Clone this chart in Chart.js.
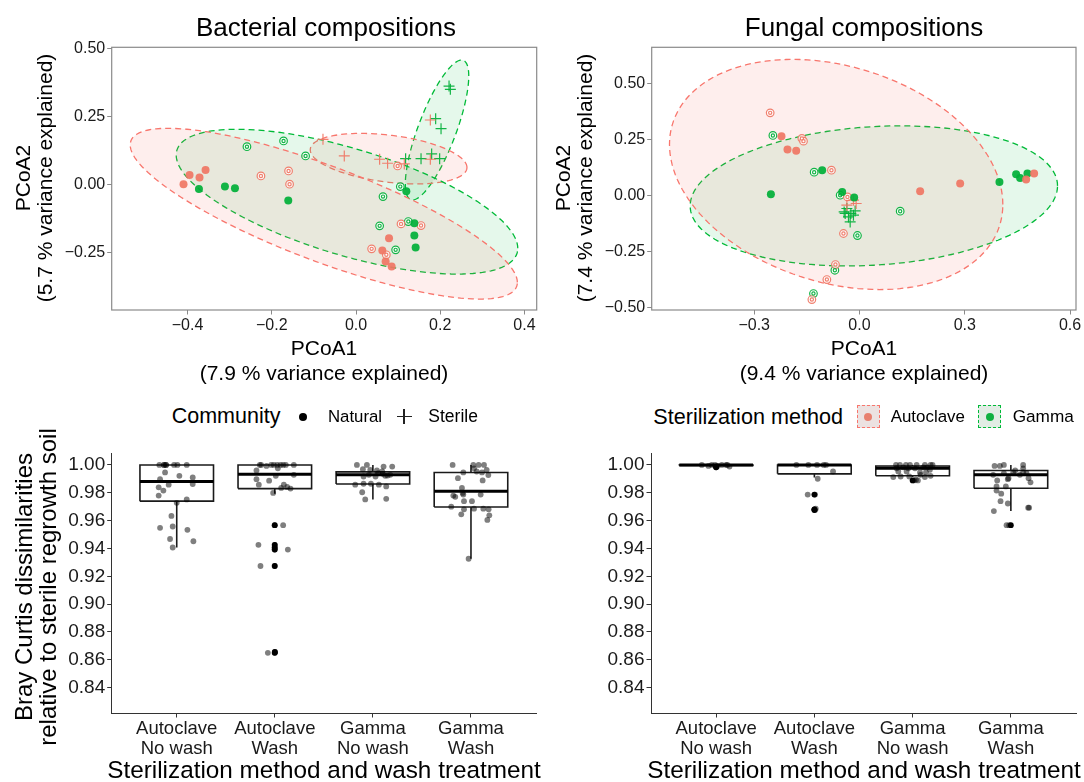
<!DOCTYPE html>
<html><head><meta charset="utf-8">
<script src="https://cdn.jsdelivr.net/npm/chart.js@4.4.1/dist/chart.umd.min.js"></script>
<style>
html,body{margin:0;padding:0;background:#fff;}
#wrap{position:relative;width:1084px;height:782px;overflow:hidden;font-family:"Liberation Sans",Arial,Helvetica,sans-serif;color:#000;background:#fff;}
canvas{position:absolute;}
.t{position:absolute;white-space:nowrap;transform:translate(-50%,-50%);line-height:1;}
.l{position:absolute;white-space:nowrap;transform:translate(0,-50%);line-height:1;}
.r{transform:translate(-50%,-50%) rotate(-90deg);}
.box{position:absolute;box-sizing:border-box;}
</style></head><body>
<div id="wrap">
<canvas id="c1" width="545" height="345" style="left:0;top:0"></canvas>
<canvas id="c2" width="544" height="345" style="left:540px;top:0"></canvas>
<canvas id="c3" width="545" height="322" style="left:0;top:440px"></canvas>
<canvas id="c4" width="544" height="322" style="left:540px;top:440px"></canvas>

<div class="t" style="left:326px;top:27px;font-size:26px">Bacterial compositions</div>
<div class="t" style="left:864px;top:27px;font-size:26px">Fungal compositions</div>

<div class="t r" style="left:22px;top:178px;font-size:21px">PCoA2</div>
<div class="t r" style="left:44px;top:178px;font-size:21px">(5.7 % variance explained)</div>
<div class="t" style="left:324px;top:347px;font-size:21px">PCoA1</div>
<div class="t" style="left:324px;top:372px;font-size:21px">(7.9 % variance explained)</div>

<div class="t r" style="left:562px;top:178px;font-size:21px">PCoA2</div>
<div class="t r" style="left:584px;top:178px;font-size:21px">(7.4 % variance explained)</div>
<div class="t" style="left:864px;top:347px;font-size:21px">PCoA1</div>
<div class="t" style="left:864px;top:372px;font-size:21px">(9.4 % variance explained)</div>

<!-- legends -->
<div class="l" style="left:171.7px;top:416.5px;font-size:21.5px">Community</div>
<div class="box" style="left:299.3px;top:412.5px;width:8px;height:8px;border-radius:50%;background:#000"></div>
<div class="l" style="left:328px;top:416.5px;font-size:16.8px">Natural</div>
<div class="box" style="left:396.5px;top:416px;width:15px;height:1.2px;background:#222"></div>
<div class="box" style="left:403.4px;top:409px;width:1.2px;height:15px;background:#222"></div>
<div class="l" style="left:428.3px;top:416.5px;font-size:17.5px">Sterile</div>

<div class="l" style="left:653.3px;top:416.5px;font-size:21.6px">Sterilization method</div>
<div class="box" style="left:856.7px;top:405px;width:23px;height:23px;background:#ECE2E1;border:1.2px dashed #F8766D"></div>
<div class="box" style="left:864.2px;top:412.5px;width:8px;height:8px;border-radius:50%;background:#E8806F"></div>
<div class="l" style="left:890.7px;top:416.5px;font-size:16.9px">Autoclave</div>
<div class="box" style="left:978.3px;top:405px;width:23px;height:23px;background:#E2ECE4;border:1.2px dashed #00BA38"></div>
<div class="box" style="left:985.8px;top:412.5px;width:8px;height:8px;border-radius:50%;background:#10B040"></div>
<div class="l" style="left:1012.7px;top:416.5px;font-size:17.2px">Gamma</div>

<div class="t r" style="left:24px;top:587px;font-size:24px">Bray Curtis dissimilarities</div>
<div class="t r" style="left:48px;top:587px;font-size:24px">relative to sterile regrowth soil</div>
<div class="t" style="left:324px;top:770px;font-size:24.3px">Sterilization method and wash treatment</div>
<div class="t" style="left:864px;top:770px;font-size:24.3px">Sterilization method and wash treatment</div>
</div>

<script>
// ---------------- DATA ----------------
// Bacterial PCoA (PCoA1, PCoA2)
const bacAutoNaturalNoWash = [[-0.4095,0.0],[-0.3952,0.0342],[-0.3715,0.0243],[-0.3572,0.0526],[0.0784,-0.1985],[0.0625,-0.2441],[0.0703,-0.2846],[0.0846,-0.3029]];
const bacAutoNaturalWash   = [[-0.2257,0.0305],[-0.1601,0.0489],[-0.1577,0.0],[0.0988,0.0673],[0.1069,-0.146],[0.1544,-0.1522],[0.0371,-0.2379],[0.072,-0.2599]];
const bacGammaNaturalNoWash= [[-0.3729,-0.0173],[-0.3112,-0.0088],[-0.2874,-0.0147],[-0.1608,-0.0603],[0.1195,-0.0257],[0.1385,-0.1434],[0.1385,-0.189],[0.1416,-0.2331]];
const bacGammaNaturalWash  = [[-0.2589,0.1382],[-0.172,0.1592],[-0.1197,0.104],[0.1052,-0.0088],[0.0641,-0.0456],[0.0561,-0.1533],[0.1242,-0.1375],[0.0941,-0.2415]];
const bacAutoSterile       = [[-0.0784,0.1654],[-0.0278,0.104],[0.0561,0.0919],[0.075,0.0772],[0.1147,0.0746],[0.1765,0.2364],[0.1765,0.0919]];
const bacGammaSterile      = [[0.2209,0.3614],[0.224,0.3493],[0.1891,0.2412],[0.2019,0.2044],[0.1178,0.0941],[0.1544,0.0941],[0.1796,0.1114],[0.1986,0.0941]];
// confidence ellipses: [centerX, centerY, halfRangeX, halfRangeY, yOffsetAtMaxX]
const bacEllipseAutoNatural   = [-0.0765,-0.1085,0.4596,0.3143,-0.253];
const bacEllipseGammaNatural  = [-0.0214,-0.0643,0.4055,0.2665,-0.1717];
const bacEllipseAutoSterile   = [0.0774,0.0941,0.186,0.093,-0.0325];
const bacEllipseGammaSterile  = [0.1924,0.1996,0.0753,0.2574,0.1985];
const bacTicksX = [-0.4,-0.2,0.0,0.2,0.4];
const bacTickLabelsX = ['\u22120.4','\u22120.2','0.0','0.2','0.4'];
const bacTicksY = [-0.25,0,0.25,0.5];
const bacTickLabelsY = ['\u22120.25','0.00','0.25','0.50'];

// Fungal PCoA
const funAutoNaturalNoWash = [[-0.2222,0.2643],[-0.2051,0.205],[-0.1803,0.1988],[0.1729,0.0192],[0.2869,0.0535],[0.4749,0.0713],[0.4977,0.098]];
const funAutoNaturalWash   = [[-0.2544,0.3681],[-0.1641,0.254],[-0.1595,0.242],[-0.0798,0.1127],[-0.0456,-0.1693],[-0.0684,-0.3075],[-0.0929,-0.3743],[-0.1356,-0.4635],[-0.0342,-0.0062]];
const funGammaNaturalNoWash= [[-0.2524,0.0058],[-0.1063,0.1127],[-0.0493,0.016],[-0.0151,-0.0089],[0.3989,0.0606],[0.4464,0.0949],[0.4578,0.0784],[0.4786,0.098]];
const funGammaNaturalWash  = [[-0.2467,0.2674],[-0.1291,0.1038],[-0.055,0.0013],[0.116,-0.07],[-0.0057,-0.1783],[-0.0701,-0.3329],[-0.1311,-0.4367]];
const funAutoSterile       = [[-0.0171,-0.021],[-0.0094,-0.0357],[-0.0359,-0.043]];
const funGammaSterile      = [[-0.0436,-0.073],[-0.0359,-0.058],[-0.0245,-0.080],[-0.0123,-0.0686],[-0.0313,-0.0954],[-0.0265,-0.1176],[-0.0407,-0.080],[-0.0171,-0.0878]];
const funEllipseAuto  = [-0.0664,0.0936,0.4749,0.5125,-0.1337];
const funEllipseGamma = [0.041,-0.0018,0.5234,0.312,0.0446];
const funTicksX = [-0.3,0,0.3,0.6];
const funTickLabelsX = ['\u22120.3','0.0','0.3','0.6'];
const funTicksY = [-0.5,-0.25,0,0.25,0.5];
const funTickLabelsY = ['\u22120.50','\u22120.25','0.00','0.25','0.50'];

// Bray Curtis boxplots
const boxCategories = [['Autoclave','No wash'],['Autoclave','Wash'],['Gamma','No wash'],['Gamma','Wash']];
const boxTicksY = [0.84,0.86,0.88,0.90,0.92,0.94,0.96,0.98,1.00];
const boxTickLabelsY = ['0.84','0.86','0.88','0.90','0.92','0.94','0.96','0.98','1.00'];

const bacQ1  = [0.974, 0.983, 0.9863, 0.9698];
const bacMed = [0.9882, 0.9934, 0.9929, 0.9811];
const bacQ3  = [1.0, 1.0, 0.995, 0.9946];
const bacWhiskLo = [0.9407, 0.9794, 0.9752, 0.9326];
const bacWhiskHi = [1.0, 1.0, 1.0, 1.0];
const bacOutliers = [[2,0.9567],[2,0.9426],[2,0.9407],[2,0.9392],[2,0.9274],[2,0.8650],[2,0.8657]];
const bacJitter = [
 [0.823,1.0],[0.871,1.0],[0.871,1.0],[0.891,1.0],[0.891,1.0],[0.973,1.0],[1.007,1.0],[1.102,1.0],[0.881,0.9946],[1.027,0.9922],[0.830,0.9898],[1.163,0.9910],
 [0.918,0.9858],[1.163,0.9863],[0.816,0.9839],[0.864,0.9816],[0.816,0.9780],[1.000,0.9728],[1.102,0.9752],[0.946,0.9634],[0.830,0.9548],[0.959,0.9558],
 [1.109,0.9534],[0.932,0.9468],[1.170,0.9452],[0.959,0.9407],
 [1.847,1.0],[1.861,1.0],[1.915,0.9993],[1.963,1.0],[1.990,1.0],[2.024,1.0],[2.058,1.0],[2.085,1.0],[2.112,1.0],[2.194,1.0],[2.031,0.9976],[1.813,0.9960],
 [2.010,0.9922],[2.194,0.9929],[1.813,0.9898],[1.942,0.9887],[1.837,0.9858],[2.092,0.9858],[2.126,0.9842],[2.065,0.9835],[2.160,0.9830],[1.983,0.9799],
 [1.997,0.9567],[2.085,0.9567],[1.833,0.9426],[1.997,0.9426],[1.997,0.9407],[1.997,0.9392],[2.133,0.9392],[1.854,0.9274],[1.997,0.9274],[1.929,0.8650],[1.997,0.8650],[2.003,0.8657],
 [2.837,1.0],[2.939,1.0],[3.109,0.9988],[3.197,0.9988],[2.898,0.9969],[2.973,0.9965],[3.041,0.9960],[3.095,0.9953],[2.905,0.9917],[2.959,0.9929],[3.027,0.9917],
 [3.150,0.9924],[3.177,0.9929],[3.054,0.9941],[3.102,0.9936],[3.126,0.9922],[2.820,0.9858],[2.905,0.9865],[2.980,0.9865],[3.061,0.9858],[3.136,0.9846],
 [2.891,0.9804],[2.922,0.9752],[3.136,0.9757],
 [3.813,1.0],[4.024,1.0],[4.078,1.0],[4.133,1.0],[4.031,0.9976],[4.160,0.9965],[3.922,0.9946],[4.058,0.9953],[4.112,0.9946],[4.177,0.9927],[3.867,0.9905],
 [4.119,0.9889],[3.908,0.9835],[3.915,0.9799],[3.820,0.9780],[3.922,0.9787],[4.099,0.9787],[3.840,0.9771],[3.929,0.9740],[4.010,0.9740],[3.799,0.9700],
 [3.929,0.9681],[4.031,0.9686],[4.126,0.9686],[4.180,0.9681],[3.901,0.9645],[4.187,0.9638],[4.167,0.9605],[3.976,0.9326]
];

const funQ1  = [0.9996, 0.9936, 0.9922, 0.9833];
const funMed = [1.0, 1.0, 0.9977, 0.9929];
const funQ3  = [1.0, 1.0, 0.9993, 0.996];
const funWhiskLo = [0.9996, 0.991, 0.9913, 0.9669];
const funWhiskHi = [1.0, 1.0, 1.0, 1.0];
const funOutliers = [[1,0.9983],[1,0.9988],[2,0.9787],[2,0.9681],[2,0.9676],[3,0.9889],[4,0.9567]];
const funJitter = [
 [0.854,1.0],[0.922,0.9993],[0.956,1.0],[0.990,1.0],[1.014,0.9993],[1.058,1.0],[1.102,1.0],[1.115,1.0],[1.136,0.9988],[1.000,0.9983],
 [1.817,1.0],[1.939,1.0],[2.027,1.0],[2.095,1.0],[2.119,1.0],[2.190,0.9953],[2.034,0.9901],[1.932,0.9787],[2.007,0.9787],[2.000,0.9681],[2.007,0.9676],[2.014,0.9686],
 [2.831,1.0],[2.871,1.0],[2.932,1.0],[2.973,1.0],[3.041,1.0],[3.125,1.0],[3.183,1.0],[3.203,1.0],[2.837,0.9976],[2.905,0.9983],[2.956,0.9976],[3.024,0.9976],
 [3.108,0.9983],[3.149,0.9983],[2.854,0.9953],[2.939,0.9953],[3.075,0.9946],[3.136,0.9946],[3.176,0.9965],[2.803,0.9913],[2.878,0.9917],[2.966,0.9917],
 [3.034,0.9894],[3.014,0.9889],[3.054,0.9889],[3.125,0.9913],[3.183,0.9922],[3.081,0.9929],
 [3.834,0.9993],[3.888,0.9993],[3.929,1.0],[4.125,1.0],[4.125,0.9976],[3.820,0.9929],[3.929,0.9941],[3.969,0.9898],[3.861,0.9889],[3.949,0.9846],[3.854,0.9846],
 [3.854,0.9816],[3.902,0.9794],[3.895,0.9740],[3.969,0.9723],[3.827,0.9669],[3.956,0.9567],[3.983,0.9567],[4.186,0.9693],[4.176,0.9693],[4.200,0.9875],[4.180,0.9905],
 [4.092,0.9929],[4.044,0.9960],[4.159,0.9941],[3.976,0.9905],[4.024,0.9946],[4.125,0.9946]
];

// ---------------- STYLE / BUILD ----------------
const F = '"Liberation Sans", Arial, Helvetica, sans-serif';
Chart.defaults.font.family = F;
const RED = '#F8766D', GRN = '#00BA38';
const REDPT = 'rgba(240,118,100,0.92)', GRNPT = 'rgba(0,176,56,0.92)';

const xy = a => a.map(p => ({x:p[0], y:p[1]}));
function ellipsePts(e){
  const [cx,cy,hx,hy,r] = e; const m = Math.sqrt(hy*hy - r*r); const pts = [];
  for(let i=0;i<=144;i++){ const t=i/144*2*Math.PI; pts.push({x:cx+hx*Math.cos(t), y:cy+r*Math.cos(t)+m*Math.sin(t)}); }
  return pts;
}
function ellipseDS(e, col, fillCol){
  return {type:'line', data:ellipsePts(e), showLine:true, pointRadius:0, borderColor:col, borderWidth:1.3,
    borderDash:[6,4], backgroundColor:fillCol, fill:'shape', tension:0, order:10};
}
function dotDS(a, col){ return {data:xy(a), pointStyle:'circle', pointRadius:4, backgroundColor:col, borderWidth:0, order:1}; }
function ringDS(a, col){
  return [
    {data:xy(a), pointStyle:'circle', pointRadius:3.8, backgroundColor:'rgba(255,255,255,0.75)', borderColor:col, borderWidth:1.2, order:2},
    {data:xy(a), pointStyle:'circle', pointRadius:1.6, backgroundColor:'#fff', borderColor:col, borderWidth:1.2, order:1}
  ];
}
function crossDS(a, col){ return {data:xy(a), pointStyle:'cross', pointRadius:5.5, borderColor:col, borderWidth:1.2, order:1}; }

const frame = {id:'frame', afterDatasetsDraw(c){ const a=c.chartArea, g=c.ctx; g.save(); g.strokeStyle='#8a8a8a'; g.lineWidth=1.2; g.strokeRect(a.left,a.top,a.right-a.left,a.bottom-a.top); g.restore(); }};

function pcoaScales(xmin,xmax,ymin,ymax,xt,xl,yt,yl){
  const tk = {font:{family:F,size:16}, color:'#1a1a1a', maxRotation:0, autoSkip:false};
  const gr = {drawOnChartArea:false, drawTicks:true, tickLength:4.5, color:'#8a8a8a', lineWidth:1};
  return {
    x:{type:'linear', min:xmin, max:xmax, afterBuildTicks:s=>{s.ticks=xt.map(v=>({value:v}));},
       ticks:Object.assign({callback:(v,i)=>xl[i], padding:1}, tk), grid:gr, border:{display:false}, afterFit:s=>{s.height=35;}},
    y:{type:'linear', min:ymin, max:ymax, afterBuildTicks:s=>{s.ticks=yt.map(v=>({value:v}));},
       ticks:Object.assign({callback:(v,i)=>yl[i], padding:2}, tk), grid:gr, border:{display:false}, afterFit:s=>{s.width=111.7;}}
  };
}
const common = {responsive:false, animation:false, events:[], plugins:{legend:{display:false}, tooltip:{enabled:false}}};

new Chart(document.getElementById('c1'), {
  type:'scatter',
  data:{datasets:[
    ellipseDS(bacEllipseAutoNatural, RED, 'rgba(248,118,109,0.12)'),
    ellipseDS(bacEllipseGammaNatural, GRN, 'rgba(0,186,56,0.10)'),
    ellipseDS(bacEllipseAutoSterile, RED, 'rgba(248,118,109,0.12)'),
    ellipseDS(bacEllipseGammaSterile, GRN, 'rgba(0,186,56,0.10)'),
    dotDS(bacAutoNaturalNoWash, REDPT), ...ringDS(bacAutoNaturalWash, REDPT),
    dotDS(bacGammaNaturalNoWash, GRNPT), ...ringDS(bacGammaNaturalWash, GRNPT),
    crossDS(bacAutoSterile, REDPT), crossDS(bacGammaSterile, GRNPT)
  ]},
  options:Object.assign({}, common, {layout:{padding:{left:0,right:8.3,top:47.3,bottom:0}},
    scales:pcoaScales(-0.58,0.429,-0.463,0.504,bacTicksX,bacTickLabelsX,bacTicksY,bacTickLabelsY)}),
  plugins:[frame]
});

new Chart(document.getElementById('c2'), {
  type:'scatter',
  data:{datasets:[
    ellipseDS(funEllipseAuto, RED, 'rgba(248,118,109,0.12)'),
    ellipseDS(funEllipseGamma, GRN, 'rgba(0,186,56,0.10)'),
    dotDS(funAutoNaturalNoWash, REDPT), ...ringDS(funAutoNaturalWash, REDPT),
    dotDS(funGammaNaturalNoWash, GRNPT), ...ringDS(funGammaNaturalWash, GRNPT),
    crossDS(funAutoSterile, REDPT), crossDS(funGammaSterile, GRNPT)
  ]},
  options:Object.assign({}, common, {layout:{padding:{left:0,right:8,top:47.3,bottom:0}},
    scales:pcoaScales(-0.592,0.617,-0.51,0.66,funTicksX,funTickLabelsX,funTicksY,funTickLabelsY)}),
  plugins:[frame]
});

function boxDatasets(q1,med,q3,wlo,whi){
  const w = 0.375, out = [], meds = [], wh = [];
  q1.forEach((_,i)=>{
    const p = i+1;
    out.push({type:'line', showLine:true, data:[{x:p-w,y:q1[i]},{x:p+w,y:q1[i]},{x:p+w,y:q3[i]},{x:p-w,y:q3[i]},{x:p-w,y:q1[i]}],
      borderColor:'#1a1a1a', borderWidth:1.6, backgroundColor:'#fff', fill:'shape', pointRadius:0, tension:0, order:6});
    meds.push({x:p-w,y:med[i]},{x:p+w,y:med[i]},{x:p,y:null});
    wh.push({x:p,y:q3[i]},{x:p,y:whi[i]},{x:p,y:null},{x:p,y:q1[i]},{x:p,y:wlo[i]},{x:p,y:null});
  });
  out.push({type:'line', showLine:true, spanGaps:false, data:meds, borderColor:'#000', borderWidth:3, pointRadius:0, order:5});
  out.push({type:'line', showLine:true, spanGaps:false, data:wh, borderColor:'#1a1a1a', borderWidth:1.6, pointRadius:0, order:7});
  return out;
}
function boxScales(yw){
  const tk = {color:'#1a1a1a', maxRotation:0, autoSkip:false};
  const gr = {drawOnChartArea:false, drawTicks:true, tickLength:4.5, color:'#333', lineWidth:1};
  return {
    x:{type:'linear', min:0.337, max:4.663, afterBuildTicks:s=>{s.ticks=[1,2,3,4].map(v=>({value:v}));},
       ticks:Object.assign({callback:(v,i)=>boxCategories[i], padding:1.5, font:{family:F,size:18.5,lineHeight:1.08}}, tk),
       grid:gr, border:{display:true,color:'#333',width:1}, afterFit:s=>{s.height=49;}},
    y:{type:'linear', min:0.8218, max:1.0083, afterBuildTicks:s=>{s.ticks=boxTicksY.map(v=>({value:v}));},
       ticks:Object.assign({callback:(v,i)=>boxTickLabelsY[i], padding:2, font:{family:F,size:19}}, tk),
       grid:gr, border:{display:true,color:'#333',width:1}, afterFit:s=>{s.width=yw;}}
  };
}
function boxChart(id, q1,med,q3,wlo,whi,outl,jit,yw,rp){
  new Chart(document.getElementById(id), {
    type:'scatter',
    data:{datasets:[
      ...boxDatasets(q1,med,q3,wlo,whi),
      {data:xy(outl), pointStyle:'circle', pointRadius:2.9, backgroundColor:'#000', borderWidth:0, order:3},
      {data:xy(jit), pointStyle:'circle', pointRadius:2.9, backgroundColor:'rgba(0,0,0,0.5)', borderWidth:0, order:1}
    ]},
    options:Object.assign({}, common, {layout:{padding:{left:0,right:rp,top:10,bottom:0}}, scales:boxScales(yw)})
  });
}
boxChart('c3', bacQ1,bacMed,bacQ3,bacWhiskLo,bacWhiskHi,bacOutliers,bacJitter,111.7,9);
boxChart('c4', funQ1,funMed,funQ3,funWhiskLo,funWhiskHi,funOutliers,funJitter,111,8);
</script>
</body></html>
